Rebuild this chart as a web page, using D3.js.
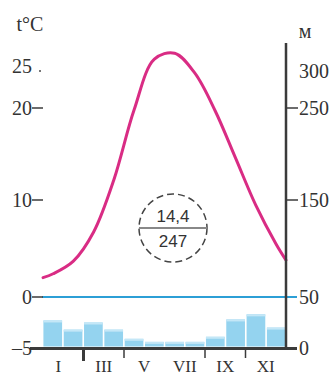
<!DOCTYPE html>
<html>
<head>
<meta charset="utf-8">
<script src="https://cdn.jsdelivr.net/npm/d3@7"></script>
<style>
  body { margin: 0; background: #fff; }
  svg { display: block; }
  .serif { font-family: "Liberation Serif", "DejaVu Serif", serif; fill: #333; }
</style>
</head>
<body>
<svg id="chart" width="335" height="375"></svg>
<script>
// monthly data
const months = ["I", "II", "III", "IV", "V", "VI", "VII", "VIII", "IX", "X", "XI", "XII"];
const monthLabels = ["I", "III", "V", "VII", "IX", "XI"];
const temps = [2.4, 3.7, 6.7, 12.2, 19.8, 26.6, 27.4, 24.7, 19.7, 14.6, 9.5, 5.5];
const tempStart = 2.0;   // curve value at the left edge
const tempEnd = 3.8;     // curve value at the right edge
const precip = [27, 18, 25, 18, 9, 6, 6, 6, 11, 28, 33, 20];

const tempTicks = [25, 20, 10, 0, -5];
const precipTicks = [300, 250, 150, 50, 0];
const annualTemp = "14,4";
const annualPrecip = "247";

const svg = d3.select("#chart");

// the original drawing isn't evenly spaced, so the scales are piecewise
const yT = d3.scaleLinear().domain([-5, 0, 10, 20, 25]).range([348, 297, 200, 108, 71]);
const yP = d3.scaleLinear().domain([0, 50, 150, 250, 300]).range([348, 297, 200, 108, 71]);

const x = d3.scaleLinear().domain([0.5, 12.5]).range([43, 286]);
const xBand = d3.scaleBand().domain(months).range([43, 286]).paddingInner(0.08).paddingOuter(0.02);

// precipitation bars
svg.append("g").selectAll("rect")
  .data(precip)
  .enter().append("rect")
  .attr("x", (d, i) => xBand(months[i]))
  .attr("y", d => yP(d))
  .attr("width", xBand.bandwidth())
  .attr("height", d => yP(0) - 1.5 - yP(d))
  .attr("fill", "#94d3ef");

// lighter top edge on the bars
svg.append("g").selectAll("rect")
  .data(precip)
  .enter().append("rect")
  .attr("x", (d, i) => xBand(months[i]))
  .attr("y", d => yP(d))
  .attr("width", xBand.bandwidth())
  .attr("height", 2)
  .attr("fill", "#c4e7f7");

// zero line
svg.append("line")
  .attr("x1", 42).attr("x2", 297)
  .attr("y1", yT(0)).attr("y2", yT(0))
  .attr("stroke", "#2c9fd6")
  .attr("stroke-width", 2);

// temperature curve
const pts = [{ m: 0.5, t: tempStart }]
  .concat(temps.map((t, i) => ({ m: i + 1, t: t })))
  .concat([{ m: 12.5, t: tempEnd }]);

const line = d3.line()
  .x(d => x(d.m))
  .y(d => yT(d.t))
  .curve(d3.curveCatmullRom.alpha(0.5));

svg.append("path")
  .datum(pts)
  .attr("d", line)
  .attr("fill", "none")
  .attr("stroke", "#d92c84")
  .attr("stroke-width", 3)
  .attr("stroke-linecap", "round");

// bottom axis line
svg.append("line")
  .attr("x1", 30).attr("x2", 297)
  .attr("y1", 348.5).attr("y2", 348.5)
  .attr("stroke", "#3b3b3b")
  .attr("stroke-width", 3);

// month ticks (every two months)
const tickMonths = [2.5, 4.5, 8.5, 10.5];
svg.append("g").selectAll("line")
  .data(tickMonths)
  .enter().append("line")
  .attr("x1", d => x(d)).attr("x2", d => x(d))
  .attr("y1", 349).attr("y2", (d, i) => i == 0 ? 361 : 358)
  .attr("stroke", "#3b3b3b")
  .attr("stroke-width", (d, i) => i == 0 ? 3 : 1.5);

svg.append("g").selectAll("text")
  .data(monthLabels)
  .enter().append("text")
  .attr("class", "serif")
  .attr("x", (d, i) => x(i * 2 + 1.5) - (i == 0 ? 5 : 0))
  .attr("y", 372)
  .attr("text-anchor", "middle")
  .style("font-size", "17px")
  .text(d => d);

// right axis
svg.append("line")
  .attr("x1", 286).attr("x2", 286)
  .attr("y1", 43).attr("y2", 350)
  .attr("stroke", "#3b3b3b")
  .attr("stroke-width", 2.5);

svg.append("g").selectAll("line")
  .data(precipTicks.filter(d => d == 250 || d == 150))
  .enter().append("line")
  .attr("x1", 286).attr("x2", 298)
  .attr("y1", d => yP(d)).attr("y2", d => yP(d))
  .attr("stroke", "#3b3b3b")
  .attr("stroke-width", 1.5);

svg.append("g").selectAll("text")
  .data(precipTicks)
  .enter().append("text")
  .attr("class", "serif")
  .attr("x", 299)
  .attr("y", d => yP(d))
  .attr("dy", "0.35em")
  .style("font-size", "20px")
  .text(d => d);

svg.append("text")
  .attr("class", "serif")
  .attr("x", 305).attr("y", 38)
  .attr("text-anchor", "middle")
  .style("font-size", "20px")
  .text("м");

// left axis labels and ticks
svg.append("g").selectAll("line")
  .data(tempTicks.filter(d => d == 20 || d == 10 || d == 0))
  .enter().append("line")
  .attr("x1", 32).attr("x2", 43)
  .attr("y1", d => yT(d)).attr("y2", d => yT(d))
  .attr("stroke", "#3b3b3b")
  .attr("stroke-width", 1.5);

svg.append("rect")
  .attr("x", 39).attr("y", yT(25) - 1)
  .attr("width", 2).attr("height", 2)
  .attr("fill", "#777");

svg.append("g").selectAll("text")
  .data(tempTicks)
  .enter().append("text")
  .attr("class", "serif")
  .attr("x", 32)
  .attr("y", d => yT(d) - (d == 25 ? 5 : 0))
  .attr("dy", "0.35em")
  .attr("text-anchor", "end")
  .style("font-size", "20px")
  .text(d => d < 0 ? "–" + Math.abs(d) : d);

svg.append("text")
  .attr("class", "serif")
  .attr("x", 30).attr("y", 31)
  .attr("text-anchor", "middle")
  .style("font-size", "20px")
  .text("t°C");

// annual values in the dashed circle
const cx = 173, cy = 228;
svg.append("circle")
  .attr("cx", cx).attr("cy", cy).attr("r", 34)
  .attr("fill", "none")
  .attr("stroke", "#444")
  .attr("stroke-width", 1.5)
  .attr("stroke-dasharray", "7,4");

svg.append("line")
  .attr("x1", cx - 34).attr("x2", cx + 34)
  .attr("y1", cy).attr("y2", cy)
  .attr("stroke", "#888")
  .attr("stroke-width", 2);

svg.append("text")
  .attr("x", cx).attr("y", cy - 6)
  .attr("text-anchor", "middle")
  .style("font-family", "Liberation Sans, Arial, sans-serif")
  .style("font-size", "17px")
  .attr("fill", "#333")
  .text(annualTemp);

svg.append("text")
  .attr("x", cx).attr("y", cy + 19)
  .attr("text-anchor", "middle")
  .style("font-family", "Liberation Sans, Arial, sans-serif")
  .style("font-size", "17px")
  .attr("fill", "#333")
  .text(annualPrecip);
</script>
</body>
</html>
